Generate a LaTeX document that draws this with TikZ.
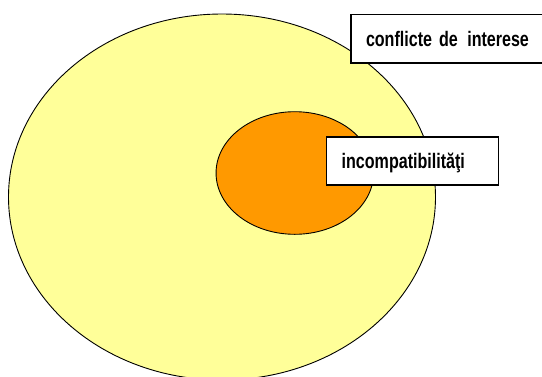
\documentclass[tikz,border=0pt]{standalone}
\usepackage{fontspec}
\newfontfamily\narrowfont{Liberation Sans}[FakeStretch=0.765]
\usetikzlibrary{shapes.geometric,positioning}
\definecolor{paleyellow}{HTML}{FFFF99}
\definecolor{amber}{HTML}{FF9900}

\begin{document}
\begin{tikzpicture}[x=1pt,y=-1pt,font=\narrowfont\bfseries\fontsize{21}{24}\selectfont,
  set/.style={draw,ellipse,line width=0.9pt,inner sep=0pt},
  tag/.style={draw,fill=white,line width=1.4pt,anchor=west,align=left,inner xsep=15pt,text height=15pt,text depth=0pt}]
\clip (0,0) rectangle (542,376);
\node[set,fill=paleyellow,minimum width=427,minimum height=366] (conflicts) at (222,197) {};
\node[set,fill=amber,minimum width=157.5,minimum height=122.6] (incomp) at (294.8,173) {};
\node[tag,text width=200pt,minimum height=48.5pt] (conflictstag) at (350.3,38.75) {conflicte de\hspace{2.5pt} interese};
\node[tag,text width=141.6pt,minimum height=48pt] (incomptag) at (326,161) {incompatibilităţi};
\end{tikzpicture}
\end{document}
